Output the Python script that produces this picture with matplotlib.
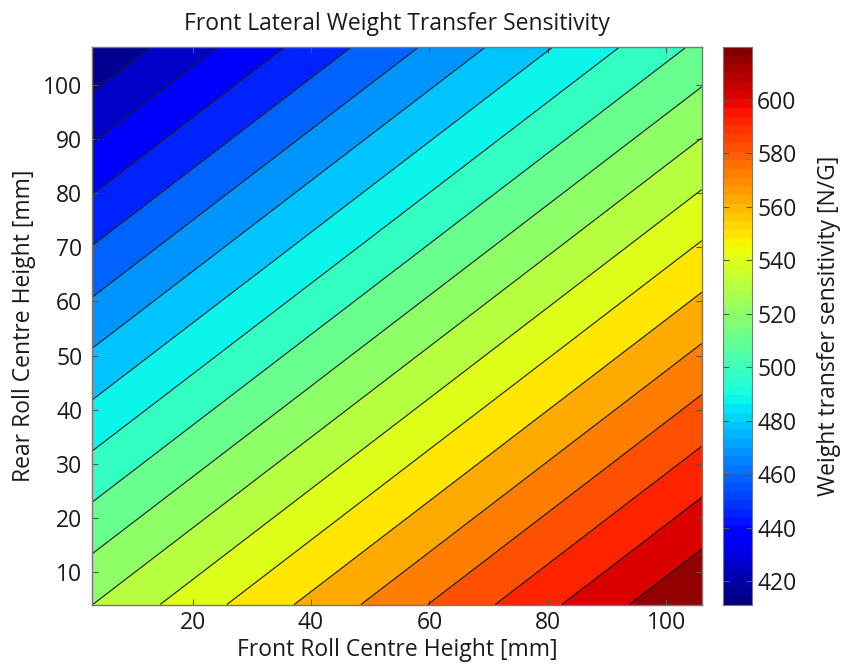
import numpy as np
import matplotlib.pyplot as plt
from matplotlib import cm, colors

# front / rear roll centre heights [mm] and sensitivity [N/G]
front_rc = [3, 54.5, 106]
rear_rc = [4, 55.5, 107]
wt_sens = [[524.7, 572.2, 619.7],   # rear = 4
           [468.0, 515.5, 563.0],   # rear = 55.5
           [411.3, 458.8, 506.3]]   # rear = 107

contour_levels = [420.4, 430.8, 441.3, 451.7, 462.2, 472.6, 483.1, 493.5, 503.9,
                  514.4, 524.8, 535.3, 545.7, 556.2, 566.6, 577.0, 587.5, 597.9, 608.4]
cbar_ticks = [420, 440, 460, 480, 500, 520, 540, 560, 580, 600]
x_ticks = [20, 40, 60, 80, 100]
y_ticks = [10, 20, 30, 40, 50, 60, 70, 80, 90, 100]

plt.rcParams['font.family'] = ['Open Sans', 'DejaVu Sans']
txt = '#1a1a1a'
fs = 16.5

X, Y = np.meshgrid(front_rc, rear_rc)
Z = np.array(wt_sens)
zmin, zmax = Z.min(), Z.max()

cmap = plt.get_cmap('jet', 64)
norm = colors.Normalize(zmin, zmax)

fig = plt.figure(figsize=(8.42, 6.66), dpi=100)
ax = fig.add_axes([0.1093, 0.0923, 0.7241, 0.8371])
cax = fig.add_axes([0.8583, 0.0923, 0.0344, 0.8371])

# outer bands reach the data min / max
fill_levels = [zmin - 0.01] + contour_levels + [zmax + 0.01]
ax.contourf(X, Y, Z, levels=fill_levels, cmap=cmap, norm=norm)
ax.contour(X, Y, Z, levels=contour_levels, colors='#1a1a1a', linewidths=0.8)

ax.set_xlim(3, 106)
ax.set_ylim(4, 107)
ax.set_xticks(x_ticks)
ax.set_yticks(y_ticks)
ax.tick_params(direction='in', top=True, right=True, length=4, width=0.8,
               color='#555555', labelsize=fs, labelcolor=txt)
ax.tick_params(axis='x', pad=5)
ax.tick_params(axis='y', pad=7)
for s in ax.spines.values():
    s.set_color('#777777')
    s.set_linewidth(1)

ax.set_title('Front Lateral Weight Transfer Sensitivity', fontsize=fs, color=txt, pad=12)
ax.set_xlabel('Front Roll Centre Height [mm]', fontsize=fs, color=txt, labelpad=2)
ax.set_ylabel('Rear Roll Centre Height [mm]', fontsize=fs, color=txt, labelpad=5)

cb = fig.colorbar(cm.ScalarMappable(norm=norm, cmap=cmap), cax=cax)
cb.set_ticks(cbar_ticks)
cb.outline.set_edgecolor('#777777')
cax.tick_params(direction='in', left=True, right=True, length=4, width=0.8,
                color='#555555', labelsize=fs, labelcolor=txt, pad=4)
cb.set_label('Weight transfer sensitivity [N/G]', fontsize=fs, color=txt, labelpad=15)

plt.savefig('out.png', dpi=100)
